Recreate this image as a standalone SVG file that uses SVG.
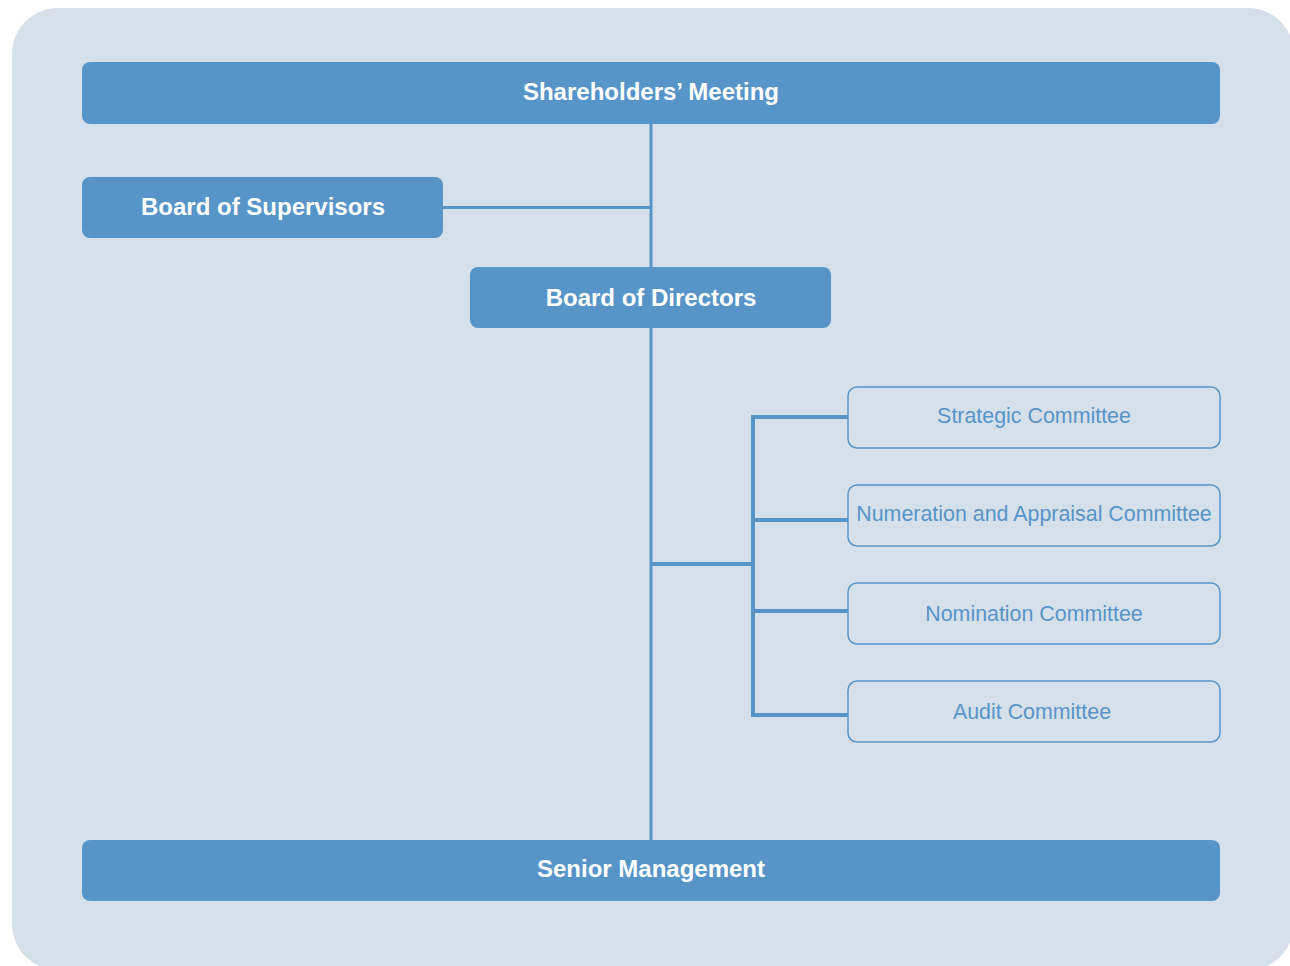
<svg xmlns="http://www.w3.org/2000/svg" width="1290" height="966" viewBox="0 0 1290 966">
<style>
.solid{fill:#5795C9;}
.outline{fill:#D6E0EB;stroke:#5795C9;stroke-width:1.5;}
.bt{font-family:"Liberation Sans",Arial,sans-serif;font-weight:bold;font-size:24px;fill:#FFFFFF;text-anchor:middle;}
.ct{font-family:"Liberation Sans",Arial,sans-serif;font-size:21.4px;fill:#5795C9;text-anchor:middle;}
.ln{stroke:#5795C9;fill:none;stroke-width:3;}
.ln2{stroke:#5795C9;fill:none;stroke-width:4;}
</style>
<rect x="0" y="0" width="1290" height="966" fill="#FFFFFF"/>
<rect x="12" y="8" width="1282" height="962" rx="46" ry="46" fill="#D6E0EB"/>
<g id="connectors">
<line class="ln" x1="651" y1="124" x2="651" y2="840"/>
<line class="ln" x1="443" y1="207.5" x2="651" y2="207.5"/>
<polyline class="ln2" points="651,564 753,564"/>
<line class="ln2" x1="753" y1="415" x2="753" y2="717"/>
<line class="ln2" x1="751" y1="417" x2="848" y2="417"/>
<line class="ln2" x1="753" y1="520" x2="848" y2="520"/>
<line class="ln2" x1="753" y1="611" x2="848" y2="611"/>
<line class="ln2" x1="751" y1="715" x2="848" y2="715"/>
</g>
<g id="shareholders">
<rect class="solid" x="82" y="62" width="1138" height="62" rx="8"/>
<text class="bt" x="651" y="100">Shareholders’ Meeting</text>
</g>
<g id="supervisors">
<rect class="solid" x="82" y="177" width="361" height="61" rx="8"/>
<text class="bt" x="263" y="214.5">Board of Supervisors</text>
</g>
<g id="directors">
<rect class="solid" x="470" y="267" width="361" height="61" rx="8"/>
<text class="bt" x="651" y="305.5">Board of Directors</text>
</g>
<g id="strategic">
<rect class="outline" x="848" y="387" width="372" height="61" rx="9"/>
<text class="ct" x="1034" y="423">Strategic Committee</text>
</g>
<g id="numeration">
<rect class="outline" x="848" y="485" width="372" height="61" rx="9"/>
<text class="ct" x="1034" y="521">Numeration and Appraisal Committee</text>
</g>
<g id="nomination">
<rect class="outline" x="848" y="583" width="372" height="61" rx="9"/>
<text class="ct" x="1034" y="621">Nomination Committee</text>
</g>
<g id="audit">
<rect class="outline" x="848" y="681" width="372" height="61" rx="9"/>
<text class="ct" x="1032" y="719">Audit Committee</text>
</g>
<g id="senior">
<rect class="solid" x="82" y="840" width="1138" height="61" rx="8"/>
<text class="bt" x="651" y="877">Senior Management</text>
</g>
</svg>
